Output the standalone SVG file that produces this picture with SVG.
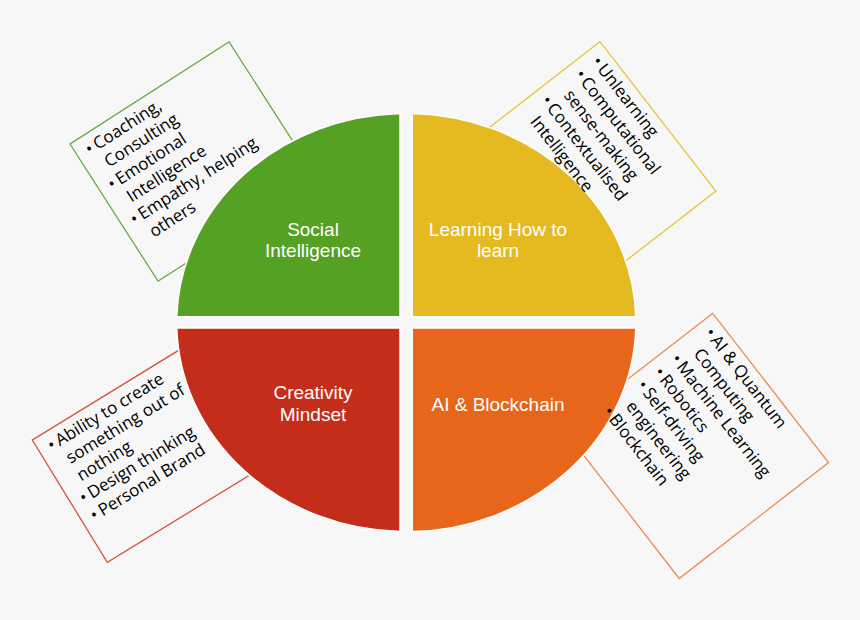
<svg xmlns="http://www.w3.org/2000/svg" width="860" height="620" viewBox="0 0 860 620">
<style>
.box{fill:none;stroke-width:1.3}
.q{stroke:#ffffff;stroke-width:1.5}
.lbl{font-family:"Liberation Sans","Open Sans",sans-serif;font-size:19px;fill:#ffffff;text-anchor:middle}
.lst{font-family:"Open Sans","Liberation Sans",sans-serif;font-size:17px;fill:#000000}
</style>
<rect width="860" height="620" fill="#f7f7f7"/>
<g id="boxes">
<rect id="box-social" class="box" stroke="#6aaa3c" x="0" y="0" width="189" height="163" transform="translate(70,144) rotate(-32.7)"/>
<rect id="box-learning" class="box" stroke="#e9c23c" x="0" y="0" width="189" height="163" transform="translate(600,41.7) rotate(52.2)"/>
<rect id="box-creativity" class="box" stroke="#d9503c" x="0" y="0" width="189" height="143.5" transform="translate(32.3,440) rotate(-31.5)"/>
<rect id="box-ai" class="box" stroke="#ee8a4c" x="0" y="0" width="189" height="189" transform="translate(712.7,313.3) rotate(52.2)"/>
</g>
<g id="pie">
<g id="social"><path class="q" fill="#55a124" d="M400,316.7 L176.8,316.7 A229.6,209.2 0 0 1 400,113.4 Z"/>
<text class="lbl"><tspan x="313" y="235.9">Social</tspan><tspan x="313" y="257.4">Intelligence</tspan></text></g>
<g id="learning"><path class="q" fill="#e5b920" d="M412.3,316.7 L412.3,113.4 A229.6,209.2 0 0 1 635.8,316.7 Z"/>
<text class="lbl"><tspan x="498" y="235.9">Learning How to</tspan><tspan x="498" y="257.4">learn</tspan></text></g>
<g id="creativity"><path class="q" fill="#c32d1a" d="M400,328 L400,531.6 A229.6,209.2 0 0 1 176.8,328 Z"/>
<text class="lbl"><tspan x="313" y="399.2">Creativity</tspan><tspan x="313" y="420.7">Mindset</tspan></text></g>
<g id="ai"><path class="q" fill="#e7661a" d="M412.3,328 L635.8,328 A229.6,209.2 0 0 1 412.3,531.6 Z"/>
<text class="lbl" x="498" y="410.7">AI &amp; Blockchain</text></g>
</g>
<g id="lists">
<text class="lst" transform="translate(70,144) rotate(-32.7)">
<tspan x="10.5" y="20.3">•</tspan><tspan x="20" y="20.3">Coaching,</tspan>
<tspan x="20" y="41.1">Consulting</tspan>
<tspan x="10.5" y="61.9">•</tspan><tspan x="20" y="61.9">Emotional</tspan>
<tspan x="20" y="82.7">Intelligence</tspan>
<tspan x="10.5" y="103.5">•</tspan><tspan x="20" y="103.5">Empathy, helping</tspan>
<tspan x="20" y="124.3">others</tspan>
</text>
<text class="lst" transform="translate(600,41.7) rotate(52.2)">
<tspan x="10.5" y="19.5">•</tspan><tspan x="20" y="19.5">Unlearning</tspan>
<tspan x="10.5" y="40.8">•</tspan><tspan x="20" y="40.8">Computational</tspan>
<tspan x="20" y="62.1">sense-making</tspan>
<tspan x="10.5" y="83.4">•</tspan><tspan x="20" y="83.4">Contextualised</tspan>
<tspan x="20" y="104.7">Intelligence</tspan>
</text>
<text class="lst" transform="translate(32.3,440) rotate(-31.5)">
<tspan x="10.5" y="20">•</tspan><tspan x="20" y="20">Ability to create</tspan>
<tspan x="20" y="40.5">something out of</tspan>
<tspan x="20" y="61">nothing</tspan>
<tspan x="10.5" y="81.5">•</tspan><tspan x="20" y="81.5">Design thinking</tspan>
<tspan x="10.5" y="102">•</tspan><tspan x="20" y="102">Personal Brand</tspan>
</text>
<text class="lst" transform="translate(712.7,313.3) rotate(52.2)">
<tspan x="10.5" y="19.2">•</tspan><tspan x="20" y="19.2">AI &amp; Quantum</tspan>
<tspan x="20" y="40.6">Computing</tspan>
<tspan x="10.5" y="62">•</tspan><tspan x="20" y="62">Machine Learning</tspan>
<tspan x="10.5" y="83.4">•</tspan><tspan x="20" y="83.4">Robotics</tspan>
<tspan x="10.5" y="104.8">•</tspan><tspan x="20" y="104.8">Self-driving</tspan>
<tspan x="20" y="126.2">engineering</tspan>
<tspan x="10.5" y="147.6">•</tspan><tspan x="20" y="147.6">Blockchain</tspan>
</text>
</g>
</svg>
